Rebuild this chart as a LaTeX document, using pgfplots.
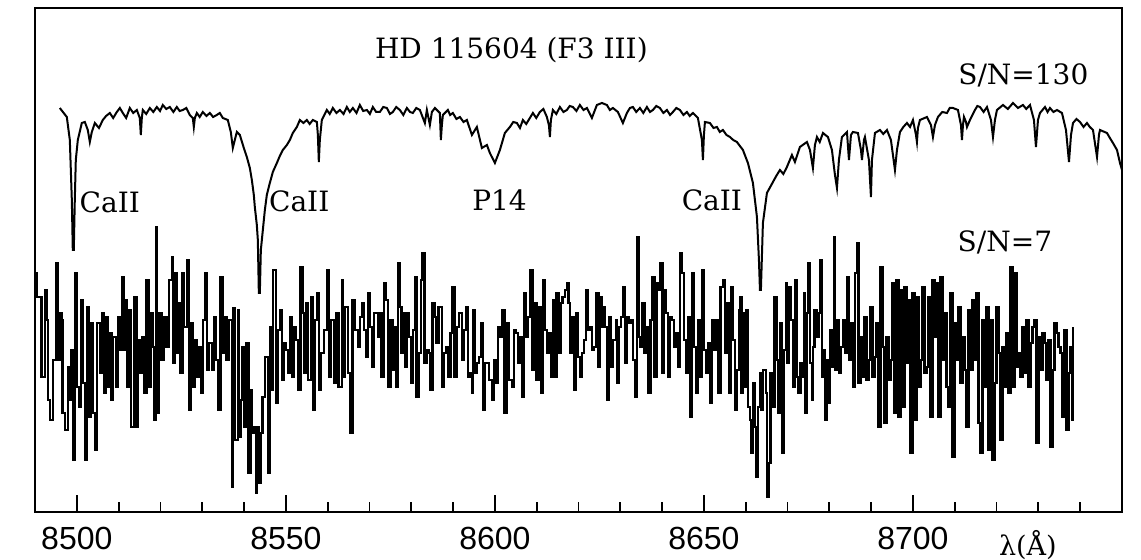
\documentclass[border=0pt]{standalone}
\usepackage{pgfplots}
\pgfplotsset{compat=1.18}
\usepackage{fontspec}
\setmainfont{DejaVu Serif}
\newfontfamily\sansf{Liberation Sans}
\begin{document}
\begin{tikzpicture}
\useasboundingbox (-17.5pt,-24pt) rectangle (553pt,256pt);
\begin{axis}[
  at={(0,0)}, anchor=south west,
  scale only axis, width=543.5pt, height=252pt,
  xmin=8490, xmax=8750, ymin=0, ymax=504,
  line width=1.3pt,
  xtick={8500,8550,8600,8650,8700},
  xticklabels={8500,8550,8600,8650,8700},
  minor xtick={8490,8500,...,8750},
  xtick pos=bottom, ytick=\empty,
  tick align=inside,
  major tick length=8.5pt, minor tick length=5pt,
  every tick/.style={black, line width=0.9pt},
  xticklabel style={font=\sansf\fontsize{16}{16}\selectfont, yshift=-3.5pt},
  clip=false,
]
% S/N=130 spectrum
\addplot[black, line width=1pt, sharp plot] table {
8495.93 404
8497.61 395
8498.33 372
8498.81 312
8499.04 262
8499.28 262
8499.52 312
8499.76 352
8500.24 372
8501.20 389
8501.92 390
8502.63 382
8503.11 370
8503.59 380
8504.31 389
8505.3 384
8506.22 392
8507.0 396
8507.90 399
8508.7 394
8509.57 400
8510.3 404
8511.01 399
8511.8 394
8512.68 404
8513.5 399
8514.36 402
8515.07 394
8515.31 377
8515.55 394
8515.79 402
8516.6 398
8517.47 404
8518.3 400
8519.14 405
8519.9 401
8520.57 407
8521.4 403
8522.25 405
8523.1 400
8523.92 405
8524.6 401
8525.36 402
8526.2 404
8527.03 397
8527.75 394
8527.99 385
8528.23 394
8528.71 399
8529.4 395
8530.14 400
8531.0 396
8531.82 399
8532.6 395
8533.49 397
8534.2 399
8534.93 394
8536.12 392
8536.84 380
8537.32 364
8537.80 372
8538.28 380
8539.00 377
8539.95 364
8540.67 355
8541.39 344
8541.87 332
8542.34 317
8542.58 305
8543.06 287
8543.30 272
8543.54 219
8543.78 219
8544.02 262
8544.26 272
8544.74 292
8544.98 302
8545.45 317
8546.17 329
8546.89 340
8547.85 349
8548.56 356
8549.28 362
8550.24 367
8550.96 372
8551.67 379
8552.63 385
8553.35 392
8554.2 389
8555.02 392
8555.7 388
8556.46 392
8557.42 390
8557.66 377
8557.89 350
8558.13 372
8558.61 392
8559.81 402
8560.5 398
8561.24 404
8562.1 399
8562.92 402
8563.8 398
8564.59 405
8565.3 400
8566.03 404
8566.9 399
8567.70 407
8568.5 401
8569.38 402
8570.1 398
8570.81 405
8571.6 400
8572.49 400
8573.3 405
8574.16 404
8574.9 398
8575.60 400
8576.4 405
8577.27 402
8578.1 397
8578.95 404
8579.7 400
8580.38 399
8581.2 404
8582.06 402
8583.25 389
8583.73 402
8584.45 387
8584.93 400
8585.65 404
8586.84 399
8587.08 372
8587.32 387
8587.56 397
8588.76 402
8589.3 397
8589.95 399
8590.8 393
8591.63 395
8592.5 390
8593.30 392
8594.50 377
8595.69 385
8596.89 364
8598.09 367
8598.80 359
8600.00 349
8601.20 362
8602.39 379
8603.59 385
8604.4 390
8605.26 389
8606.0 384
8606.70 392
8607.5 388
8608.37 394
8609.09 399
8609.9 394
8610.76 400
8611.6 403
8612.44 395
8612.92 387
8613.16 375
8613.40 392
8613.87 402
8614.7 398
8615.55 405
8616.4 400
8617.22 402
8617.9 406
8618.66 405
8619.5 401
8620.33 407
8621.2 402
8622.01 404
8623.20 394
8624.40 407
8625.60 409
8626.79 407
8627.5 402
8628.23 404
8629.42 400
8630.62 389
8631.58 399
8632.3 404
8633.01 405
8633.8 400
8634.69 404
8635.5 399
8636.36 405
8637.1 400
8637.80 402
8638.6 406
8639.47 404
8640.3 399
8641.15 402
8641.9 397
8642.58 400
8643.4 404
8644.26 402
8645.1 397
8645.93 400
8646.6 396
8647.37 399
8648.56 394
8649.52 372
8649.76 352
8650.00 377
8650.24 390
8651.43 389
8652.3 384
8653.11 385
8653.8 380
8654.54 382
8655.4 377
8656.22 375
8657.0 372
8657.89 370
8659.33 362
8660.52 349
8661.72 329
8662.68 295
8663.16 252
8663.40 222
8663.63 222
8664.11 289
8665.07 319
8666.51 330
8667.3 336
8668.18 342
8669.0 338
8669.85 345
8671.05 357
8671.77 350
8672.96 365
8674.64 370
8675.36 362
8676.07 344
8676.55 367
8677.03 375
8677.7 370
8678.47 379
8679.66 375
8680.62 362
8681.34 337
8681.82 324
8682.29 352
8683.01 375
8684.21 380
8684.69 352
8685.17 377
8685.64 380
8686.84 379
8687.56 362
8687.80 352
8688.28 372
8688.51 375
8689.47 352
8689.95 315
8690.19 352
8690.91 379
8692.10 382
8692.9 378
8693.78 382
8694.73 372
8695.69 342
8696.17 362
8696.89 380
8697.7 385
8698.56 389
8699.3 385
8700.00 392
8700.72 377
8700.95 370
8701.19 384
8701.67 392
8703.35 395
8704.30 387
8704.78 375
8705.26 387
8705.98 395
8707.0 400
8708.13 399
8708.8 404
8709.57 404
8710.76 402
8711.48 387
8711.72 372
8711.96 387
8712.20 395
8712.68 390
8712.92 385
8713.63 392
8714.83 402
8715.4 406
8716.03 405
8716.9 400
8717.70 405
8718.66 392
8719.14 375
8719.61 392
8720.09 402
8721.53 407
8722.7 403
8723.92 409
8725.1 404
8726.31 407
8727.1 403
8727.99 407
8728.94 392
8729.42 365
8729.90 392
8730.38 399
8731.58 405
8732.2 400
8732.77 404
8733.6 400
8734.45 402
8735.64 399
8736.60 382
8737.32 350
8737.80 377
8738.28 389
8739.1 393
8739.95 390
8740.8 385
8741.62 389
8742.3 385
8743.06 382
8744.02 355
8744.49 377
8744.73 382
8746.41 379
8747.1 374
8747.84 369
8748.80 362
8749.52 349
8750.00 342
};
% S/N=7 spectrum
\addplot[black, line width=1.15pt, const plot] table {
8490.00 239
8490.35 215
8491.55 135
8492.35 222
8492.74 192
8493.14 112
8493.54 92
8494.34 152
8494.98 249
8495.53 152
8495.93 199
8496.33 192
8496.57 99
8497.13 82
8497.93 145
8498.33 112
8498.72 162
8499.12 52
8499.60 239
8500.08 125
8500.56 105
8501.04 212
8501.52 129
8501.99 52
8502.47 205
8502.79 95
8503.27 189
8503.75 99
8504.39 62
8504.86 189
8505.50 139
8505.98 199
8506.46 119
8506.94 195
8507.50 125
8507.89 179
8508.29 112
8508.69 175
8509.33 125
8509.89 195
8510.45 162
8510.92 235
8511.24 162
8511.72 212
8512.04 125
8512.52 202
8513.00 85
8513.80 215
8514.27 85
8514.67 172
8515.23 139
8515.71 175
8516.03 119
8516.67 232
8517.14 125
8517.62 199
8518.10 165
8518.50 92
8518.90 285
8519.22 99
8519.70 199
8520.25 152
8520.81 195
8521.45 165
8522.01 232
8522.73 255
8523.05 149
8523.44 239
8523.84 159
8524.48 209
8524.80 139
8525.28 239
8525.68 185
8526.39 252
8526.87 102
8527.35 189
8527.83 125
8528.31 172
8528.79 135
8529.27 165
8529.74 119
8530.22 192
8530.70 239
8531.18 142
8531.66 169
8532.30 142
8532.77 195
8533.25 152
8533.89 102
8534.37 235
8534.85 159
8535.33 195
8535.80 152
8536.28 192
8537.08 25
8537.40 204
8537.88 72
8538.51 202
8538.67 75
8539.15 112
8539.63 165
8540.11 85
8540.59 169
8541.07 39
8541.55 122
8541.87 79
8542.34 85
8542.82 19
8543.14 85
8543.46 29
8543.94 79
8544.42 115
8545.05 155
8545.69 39
8546.17 185
8546.65 122
8546.97 242
8547.60 109
8548.08 182
8548.56 202
8549.04 132
8549.52 169
8550.00 162
8550.48 139
8550.95 195
8551.43 135
8551.91 185
8552.39 172
8553.03 122
8553.51 245
8553.99 199
8554.30 139
8554.78 209
8555.26 132
8556.06 215
8556.54 102
8557.02 192
8557.50 219
8557.97 122
8558.45 159
8559.09 182
8559.89 242
8560.37 135
8560.85 192
8561.48 129
8562.12 199
8562.60 125
8563.40 232
8563.72 135
8564.19 205
8564.83 139
8565.31 79
8565.95 212
8566.59 182
8567.22 165
8567.70 195
8568.18 209
8568.66 182
8569.14 155
8569.62 219
8570.09 185
8570.57 145
8571.05 199
8572.01 175
8572.49 199
8572.89 135
8573.45 229
8573.93 212
8574.48 125
8575.04 192
8575.52 142
8575.99 185
8576.31 125
8576.88 249
8577.27 205
8577.67 159
8578.07 199
8578.55 145
8578.87 199
8579.51 175
8580.07 129
8580.46 182
8580.86 235
8581.26 115
8581.90 159
8582.38 232
8582.70 259
8583.18 149
8583.65 162
8584.13 159
8584.61 122
8585.09 209
8585.57 195
8586.05 169
8586.52 205
8587.32 125
8587.80 159
8588.28 165
8588.76 135
8589.39 179
8589.87 225
8590.35 135
8590.99 185
8591.47 199
8592.11 152
8592.58 182
8593.06 205
8593.54 135
8594.02 139
8594.50 119
8594.82 202
8595.30 139
8595.77 149
8596.25 155
8596.73 189
8597.21 102
8597.69 149
8598.17 149
8598.65 132
8599.28 112
8599.76 152
8600.24 129
8600.72 185
8601.20 175
8601.83 202
8602.31 99
8602.79 189
8603.27 132
8604.07 125
8604.55 182
8605.02 179
8605.50 149
8605.98 175
8606.62 115
8606.94 219
8607.42 175
8607.89 195
8608.37 242
8609.01 142
8609.49 209
8609.97 132
8610.61 205
8611.08 119
8611.56 232
8612.04 182
8612.52 159
8613.00 179
8613.48 135
8613.96 212
8614.43 135
8614.75 219
8615.23 159
8615.71 209
8616.19 215
8616.82 222
8617.30 229
8617.62 209
8617.94 159
8618.42 195
8618.90 122
8619.38 199
8619.86 155
8620.33 135
8620.81 159
8621.29 172
8621.77 222
8622.25 182
8622.73 185
8623.20 162
8623.68 165
8624.32 219
8624.80 145
8625.12 215
8625.60 185
8625.91 205
8626.39 185
8626.87 112
8627.35 195
8627.83 145
8628.31 172
8628.95 192
8629.27 129
8629.74 185
8630.22 195
8630.70 225
8631.18 149
8631.66 195
8632.13 189
8632.61 192
8633.09 152
8633.57 115
8634.05 275
8634.37 175
8634.85 165
8635.32 209
8635.80 159
8636.28 185
8636.76 119
8637.24 192
8637.72 235
8638.20 135
8638.67 229
8639.15 222
8639.63 249
8640.11 139
8640.43 222
8640.91 199
8641.39 135
8641.86 195
8642.34 192
8642.82 165
8643.30 179
8643.78 145
8644.26 259
8644.73 239
8645.21 172
8645.69 139
8646.17 195
8646.65 95
8647.13 239
8647.61 165
8648.08 119
8648.56 192
8649.04 135
8649.52 242
8650.00 162
8650.48 139
8650.95 169
8651.43 109
8651.91 192
8652.55 162
8653.03 192
8653.51 119
8653.98 225
8654.62 232
8655.10 159
8655.58 209
8656.06 119
8656.54 225
8657.01 172
8657.49 102
8657.97 142
8658.45 202
8658.61 215
8659.01 119
8659.41 199
8659.81 125
8660.20 202
8660.60 105
8661.00 92
8661.40 59
8661.80 129
8662.20 85
8662.60 35
8662.99 105
8663.39 139
8663.79 102
8664.19 142
8664.83 119
8665.15 15
8665.63 49
8665.95 139
8666.42 105
8666.90 215
8667.38 152
8667.86 99
8668.34 189
8668.66 59
8669.14 162
8669.61 229
8669.93 149
8670.41 225
8670.89 192
8671.37 125
8671.85 232
8672.17 135
8672.64 119
8673.12 149
8673.44 135
8673.92 219
8674.24 99
8674.56 199
8674.88 249
8675.36 149
8675.83 112
8676.15 165
8676.47 202
8676.95 175
8677.43 199
8677.75 252
8678.23 135
8678.70 162
8679.02 92
8679.50 152
8679.82 109
8680.14 182
8680.62 145
8681.10 275
8681.42 142
8681.89 192
8682.37 139
8682.85 165
8683.33 192
8683.81 159
8684.29 235
8684.77 152
8685.24 189
8685.72 125
8686.20 239
8686.68 269
8687.00 129
8687.48 175
8687.96 135
8688.43 195
8688.91 132
8689.39 152
8689.87 205
8690.35 135
8690.83 155
8691.30 189
8691.78 85
8692.26 245
8692.74 165
8693.22 89
8693.70 175
8694.17 132
8694.65 152
8695.13 229
8695.61 99
8696.09 232
8696.57 95
8697.05 222
8697.52 105
8698.00 225
8698.48 149
8698.96 212
8699.44 59
8699.92 219
8700.39 92
8700.87 215
8701.35 125
8701.83 152
8702.31 225
8702.79 139
8703.26 145
8703.74 215
8704.22 95
8704.70 232
8705.18 175
8705.66 229
8706.14 95
8706.61 235
8707.09 152
8707.57 199
8708.05 125
8708.53 105
8709.01 219
8709.48 55
8709.96 189
8710.44 152
8710.92 205
8711.40 129
8711.88 175
8712.35 142
8712.83 85
8713.31 202
8713.79 142
8714.27 212
8714.75 152
8715.23 219
8715.70 89
8716.18 59
8716.66 192
8717.14 125
8717.62 205
8718.10 62
8718.57 192
8719.05 52
8719.53 129
8720.01 205
8720.49 159
8720.97 72
8721.45 165
8721.92 125
8722.40 179
8722.88 119
8723.36 245
8723.84 125
8724.32 239
8724.79 145
8725.27 159
8725.75 135
8726.23 185
8726.71 139
8727.19 192
8727.66 125
8728.14 169
8728.62 185
8729.10 192
8729.58 69
8730.06 175
8730.54 142
8731.01 179
8731.49 169
8731.97 132
8732.45 172
8732.93 65
8733.41 142
8733.88 189
8734.36 179
8734.84 165
8735.32 159
8735.80 95
8736.28 182
8736.75 82
8737.23 139
8737.71 165
8738.19 92
8738.35 185
};
\node[font=\fontsize{14}{14}\selectfont] at (axis cs:8603.95,462) {HD 115604 (F3 III)};
\node[font=\fontsize{14}{14}\selectfont] at (axis cs:8726.4,437) {S/N=130};
\node[font=\fontsize{14}{14}\selectfont] at (axis cs:8722.0,270) {S/N=7};
\node[font=\fontsize{14}{14}\selectfont] at (axis cs:8507.9,310) {CaII};
\node[font=\fontsize{14}{14}\selectfont] at (axis cs:8553.2,311) {CaII};
\node[font=\fontsize{14}{14}\selectfont] at (axis cs:8601.1,312) {P14};
\node[font=\fontsize{14}{14}\selectfont] at (axis cs:8651.9,312) {CaII};
\node[font=\fontsize{13.5}{13.5}\selectfont, inner sep=0pt] at (axis cs:8727.5,-33) {λ(Å)};
\end{axis}
\end{tikzpicture}
\end{document}
